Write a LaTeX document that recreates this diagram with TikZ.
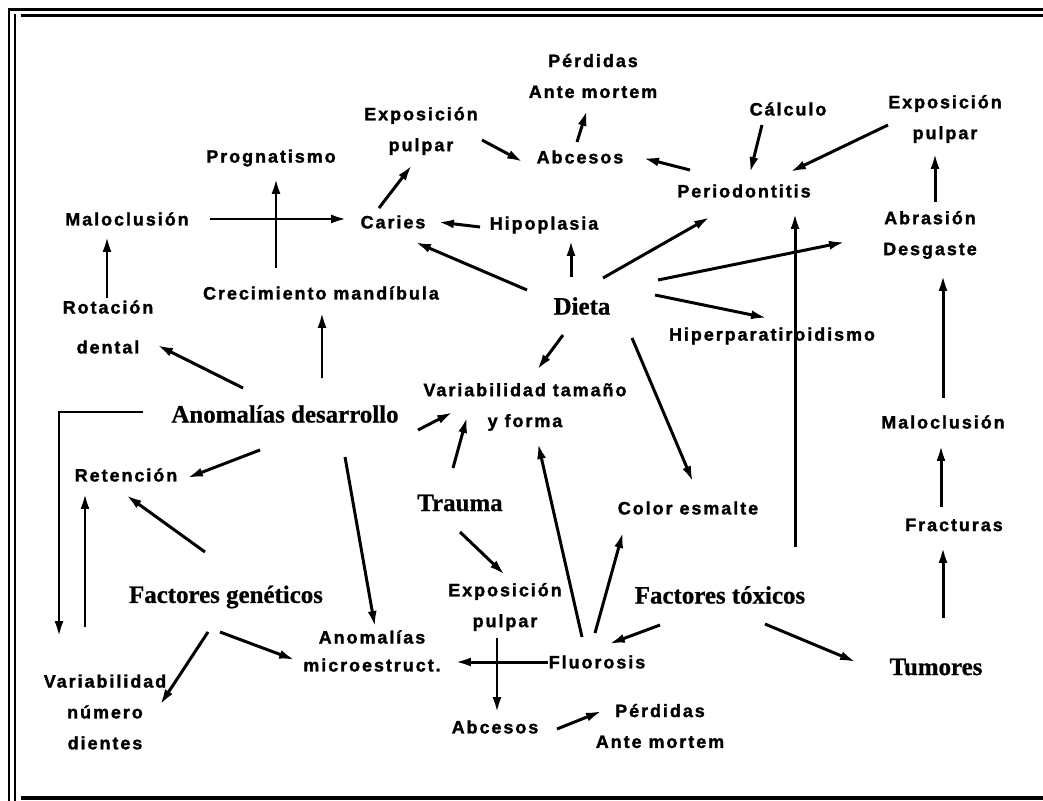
\documentclass[tikz,border=0pt]{standalone}
\usepackage{fontspec}
\newfontfamily\labfont[LetterSpace=11,FakeBold=1.6]{Liberation Sans Bold}
\newfontfamily\capfont[FakeBold=0.8]{Liberation Serif Bold}
\usetikzlibrary{arrows.meta}
\tikzset{
    effectnode/.style={font=\labfont\fontsize{18}{31}\selectfont, align=center, inner sep=0pt},
    causenode/.style={font=\capfont\fontsize{25}{30}\selectfont, inner sep=0pt},
    arr/.style={line width=3pt, -{Latex[length=16pt,width=9pt]}},
    rule/.style={line width=2.8pt}
}
\begin{document}
\begin{tikzpicture}[x=1bp,y=-1bp]
    \useasboundingbox (0,0) rectangle (1043,801);
    % Frame round the page
    \draw[rule] (9,8) -- (9,801);
    \draw[rule] (15,14) -- (15,801);
    \draw[rule] (8,9.5) -- (1043,9.5);
    \draw[rule] (21,15.5) -- (1043,15.5);
    \draw[line width=4pt] (21,798) -- (1043,798);
    % Causes (serif)
    \node[causenode] (dieta)  at (582,306) {Dieta};
    \node[causenode] (anodes) at (285,414) {Anomalías desarrollo};
    \node[causenode] (trauma) at (460,503) {Trauma};
    \node[causenode] (fgen)   at (226,597) {Factores genéticos};
    \node[causenode] (ftox)   at (720,595) {Factores tóxicos};
    \node[causenode] (tumor)  at (936,667) {Tumores};
    % Effects
    \node[effectnode] (perd1)  at (593,76)  {Pérdidas\\Ante mortem};
    \node[effectnode] (expo1)  at (421,131) {Exposición\\pulpar};
    \node[effectnode] (abc1)   at (580,157) {Abcesos};
    \node[effectnode] (calc)   at (788,109) {Cálculo};
    \node[effectnode] (expo2)  at (945,119) {Exposición\\pulpar};
    \node[effectnode] (perio)  at (744,191) {Periodontitis};
    \node[effectnode] (prog)   at (271,158) {Prognatismo};
    \node[effectnode] (malo1)  at (127,219) {Maloclusión};
    \node[effectnode] (caries) at (393,222) {Caries};
    \node[effectnode] (hipo)   at (544,225) {Hipoplasia};
    \node[effectnode] (abras)  at (930,235) {Abrasión\\Desgaste};
    \node[effectnode] (crec)   at (321,293) {Crecimiento mandíbula};
    \node[effectnode] (rota)   at (108,327) {Rotación\\[9pt]dental};
    \node[effectnode] (hiper)  at (772,336) {Hiperparatiroidismo};
    \node[effectnode] (vartam) at (525,407) {Variabilidad tamaño\\y forma};
    \node[effectnode] (reten)  at (126,475) {Retención};
    \node[effectnode] (color)  at (688,508) {Color esmalte};
    \node[effectnode] (malo2)  at (943,422) {Maloclusión};
    \node[effectnode] (fract)  at (954,525) {Fracturas};
    \node[effectnode] (expo3)  at (505,607) {Exposición\\pulpar};
    \node[effectnode] (anomic) at (372,651) {Anomalías\\[-3pt]microestruct.};
    \node[effectnode] (fluor)  at (597,662) {Fluorosis};
    \node[effectnode] (abc2)   at (495,727) {Abcesos};
    \node[effectnode] (perd2)  at (660,726) {Pérdidas\\Ante mortem};
    \node[effectnode] (varnum) at (105,712) {Variabilidad\\número\\dientes};
    % Links from Dieta
    \draw[arr] ([shift={(-55,-16)}]dieta.center) -- ([shift={(22,20)}]caries.center);
    \draw[arr] ([shift={(-11,-29)}]dieta.center) -- ([shift={(27,15)}]hipo.center);
    \draw[arr] ([shift={(21,-28)}]dieta.center) -- ([shift={(-34,26)}]perio.center);
    \draw[arr] ([shift={(76,-26)}]dieta.center) -- ([shift={(-85,7)}]abras.center);
    \draw[arr] ([shift={(73,-11)}]dieta.center) -- ([shift={(-5,-18)}]hiper.center);
    \draw[arr] ([shift={(-19,29)}]dieta.center) -- ([shift={(12,-37)}]vartam.center);
    \draw[arr] ([shift={(50,32)}]dieta.center) -- ([shift={(5,-26)}]color.center);
    % Upper chain
    \draw[arr] ([shift={(-64,2)}]hipo.center) -- ([shift={(45,0)}]caries.center);
    \draw[arr] ([shift={(-14,-14)}]caries.center) -- ([shift={(-9,34)}]expo1.center);
    \draw[arr] ([shift={(61,9)}]expo1.center) -- ([shift={(-57,5)}]abc1.center);
    \draw[arr] ([shift={(-3,-15)}]abc1.center) -- ([shift={(-6,34)}]perd1.center);
    \draw[arr] ([shift={(-54,-21)}]perio.center) -- ([shift={(63,1)}]abc1.center);
    \draw[arr] ([shift={(-26,16)}]calc.center) -- ([shift={(6,-18)}]perio.center);
    \draw[arr] ([shift={(-57,6)}]expo2.center) -- ([shift={(46,-19)}]perio.center);
    \draw[arr] ([shift={(5,-33)}]abras.center) -- ([shift={(-10,34)}]expo2.center);
    % Left side
    \draw[arr] ([shift={(83,0)}]malo1.center) -- ([shift={(-46,-3)}]caries.center);
    \draw[arr] ([shift={(-45,-25)}]crec.center) -- ([shift={(5,20)}]prog.center);
    \draw[arr] ([shift={(-1,-29)}]rota.center) -- ([shift={(-20,17)}]malo1.center);
    \draw[arr] ([shift={(-42,-26)}]anodes.center) -- ([shift={(49,18)}]rota.center);
    \draw[arr] ([shift={(37,-36)}]anodes.center) -- ([shift={(1,19)}]crec.center);
    \draw[arr] ([shift={(-142,-2)}]anodes.center) -| ([shift={(-46,-75)}]varnum.center);
    \draw[arr] ([shift={(-20,-85)}]varnum.center) -- ([shift={(-41,18)}]reten.center);
    \draw[arr] ([shift={(-25,36)}]anodes.center) -- ([shift={(61,3)}]reten.center);
    \draw[arr] ([shift={(60,43)}]anodes.center) -- ([shift={(3,-24)}]anomic.center);
    \draw[arr] ([shift={(133,16)}]anodes.center) -- ([shift={(-72,5)}]vartam.center);
    \draw[arr] ([shift={(-21,-45)}]fgen.center) -- ([shift={(0,20)}]reten.center);
    \draw[arr] ([shift={(-18,35)}]fgen.center) -- ([shift={(55,-7)}]varnum.center);
    \draw[arr] ([shift={(-6,35)}]fgen.center) -- ([shift={(-77,9)}]anomic.center);
    % Trauma and toxic factors
    \draw[arr] ([shift={(-7,-35)}]trauma.center) -- ([shift={(-58,10)}]vartam.center);
    \draw[arr] ([shift={(0,29)}]trauma.center) -- ([shift={(0,-32)}]expo3.center);
    \draw[arr] ([shift={(-8,31)}]expo3.center) -- ([shift={(2,-14)}]abc2.center);
    \draw[arr] ([shift={(62,2)}]abc2.center) -- ([shift={(-58,-15)}]perd2.center);
    \draw[arr] ([shift={(-15,-25)}]fluor.center) -- ([shift={(13,36)}]vartam.center);
    \draw[arr] ([shift={(-2,-29)}]fluor.center) -- ([shift={(-65,24)}]color.center);
    \draw[arr] ([shift={(-49,0)}]fluor.center) -- ([shift={(83,11)}]anomic.center);
    \draw[arr] ([shift={(-60,30)}]ftox.center) -- ([shift={(12,-18)}]fluor.center);
    \draw[arr] ([shift={(45,29)}]ftox.center) -- ([shift={(-80,-5)}]tumor.center);
    \draw[arr] ([shift={(75,-48)}]ftox.center) -- ([shift={(51,22)}]perio.center);
    % Right column
    \draw[arr] ([shift={(7,-49)}]tumor.center) -- ([shift={(-11,22)}]fract.center);
    \draw[arr] ([shift={(-13,-18)}]fract.center) -- ([shift={(-2,23)}]malo2.center);
    \draw[arr] ([shift={(0,-24)}]malo2.center) -- ([shift={(13,40)}]abras.center);
\end{tikzpicture}
\end{document}
